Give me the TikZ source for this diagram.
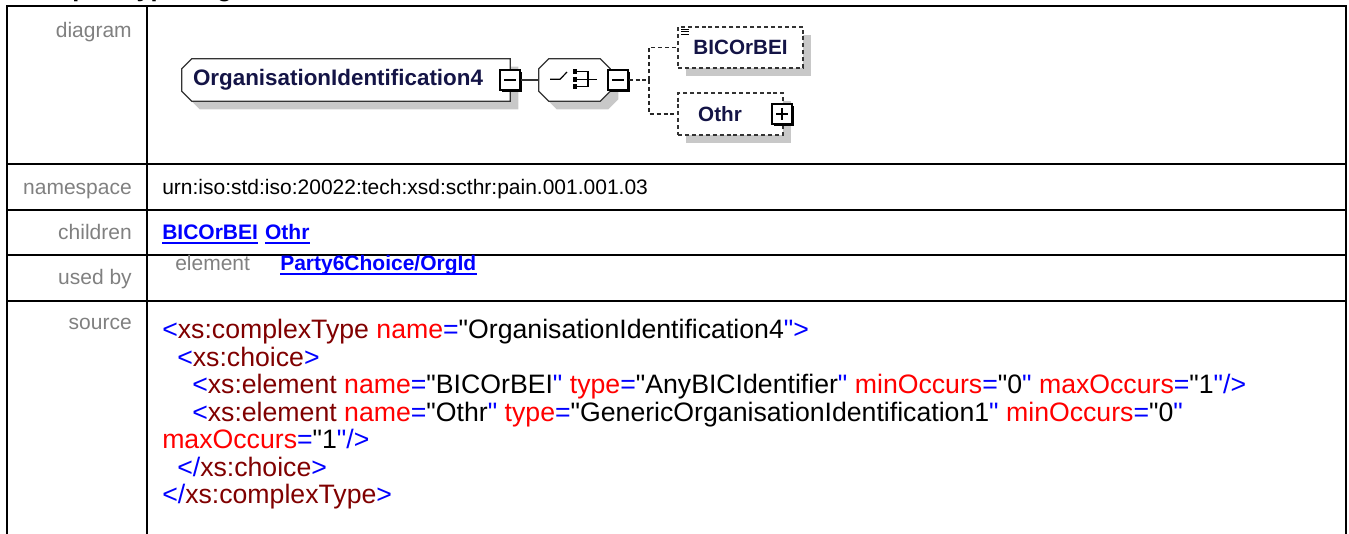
\documentclass[tikz,border=0pt]{standalone}
\usepackage{fontspec}
\setmainfont{Liberation Sans}
\newfontfamily\srcfont{Liberation Sans}
\usetikzlibrary{shadows, positioning, backgrounds}
\definecolor{lblgray}{RGB}{128,128,128}
\definecolor{navy}{RGB}{20,20,70}
\definecolor{shgray}{RGB}{200,200,200}
\definecolor{tagred}{RGB}{128,0,0}
\definecolor{attred}{RGB}{255,0,0}
\definecolor{symblue}{RGB}{0,0,255}
\newcommand{\xtag}[1]{\textcolor{tagred}{#1}}
\newcommand{\xatt}[1]{\textcolor{attred}{#1}}
\newcommand{\xsym}[1]{\textcolor{symblue}{#1}}
% outline of a box with cut corners on the left (#1 node, #2/#3 offset)
\newcommand{\lcham}[3]{([xshift=#2+7.5pt,yshift=#3]#1.north west) -- ([xshift=#2,yshift=#3]#1.north east)
  -- ([xshift=#2,yshift=#3]#1.south east) -- ([xshift=#2+7.5pt,yshift=#3]#1.south west)
  -- ([xshift=#2,yshift=#3+7.5pt]#1.south west) -- ([xshift=#2,yshift=#3-7.5pt]#1.north west) -- cycle}
% outline with all four corners cut
\newcommand{\ocham}[3]{([xshift=#2+7.5pt,yshift=#3]#1.north west) -- ([xshift=#2-7.5pt,yshift=#3]#1.north east)
  -- ([xshift=#2,yshift=#3-7.5pt]#1.north east) -- ([xshift=#2,yshift=#3+7.5pt]#1.south east)
  -- ([xshift=#2-7.5pt,yshift=#3]#1.south east) -- ([xshift=#2+7.5pt,yshift=#3]#1.south west)
  -- ([xshift=#2,yshift=#3+7.5pt]#1.south west) -- ([xshift=#2,yshift=#3-7.5pt]#1.north west) -- cycle}

\begin{document}
\begin{tikzpicture}[x=0.75pt, y=-0.75pt,
  tblline/.style={line width=1.5pt, line cap=rect},
  lbl/.style={anchor=base east, inner sep=0pt, text=lblgray,
    font=\fontsize{15.75pt}{18pt}\selectfont},
  cell/.style={anchor=base west, inner sep=0pt,
    font=\fontsize{15.75pt}{18pt}\selectfont},
  lnk/.style={cell, text=symblue, font=\fontsize{15.75pt}{18pt}\selectfont\bfseries},
  lnkline/.style={draw=symblue, line width=1.4pt},
  src/.style={anchor=base west, inner sep=0pt,
    font=\srcfont\fontsize{20pt}{22pt}\selectfont},
  boxline/.style={draw=black!80, line width=1pt, fill=white},
  elnode/.style={rectangle, inner sep=0pt, minimum height=31.5pt,
    font=\fontsize{16.8pt}{18pt}\selectfont\bfseries, text=navy},
  optbox/.style={boxline, rectangle, inner sep=0pt, line width=1.2pt, dash pattern=on 3pt off 2.2pt,
    drop shadow={shadow xshift=6pt, shadow yshift=-6pt, fill=shgray, opacity=1},
    font=\fontsize{15.5pt}{18pt}\selectfont\bfseries, text=navy},
  pmbox/.style={draw=black, line width=0.9pt, fill=white, minimum size=15pt, inner sep=0pt,
    drop shadow={shadow xshift=1.5pt, shadow yshift=-1.5pt, fill=black, opacity=1}},
  minusbox/.style={pmbox, path picture={
    \draw[line width=0.9pt] ([xshift=3pt]path picture bounding box.west) -- ([xshift=-3pt]path picture bounding box.east);}},
  plusbox/.style={pmbox, path picture={
    \draw[line width=0.9pt] ([xshift=3pt]path picture bounding box.west) -- ([xshift=-3pt]path picture bounding box.east);
    \draw[line width=0.9pt] ([yshift=-3pt]path picture bounding box.north) -- ([yshift=3pt]path picture bounding box.south);}},
  conn/.style={line width=1pt, draw=black!80},
  dconn/.style={conn, draw=black!85, line width=1.2pt, dash pattern=on 3pt off 2.2pt}
]
  \useasboundingbox (0,0) rectangle (1349,533);
  \clip (0,0) rectangle (1349,533);

  % heading, cut off at the top
  \node[anchor=base west, inner sep=0pt, font=\fontsize{19pt}{20pt}\selectfont\bfseries]
    (ttl) at (20,-3.8) {complexType OrganisationIdentification4};

  % table rules
  \foreach \y in {6,164,210,255,301}
    \draw[tblline] (7,\y) -- (1346,\y);
  \foreach \x in {7,147,1346}
    \draw[tblline] (\x,6) -- (\x,545);

  % row labels
  \node[lbl] (lbldiag) at (132,37) {diagram};
  \node[lbl] (lblns) at (132,194) {namespace};
  \node[lbl] (lblkids) at (132,239.5) {children};
  \node[lbl] (lblused) at (132,284.5) {used by};
  \node[lbl] (lblsrc) at (132,329) {source};

  % diagram
  \node[elnode, minimum width=246pt] (org) at (346,80) {OrganisationIdentification4\hspace*{12pt}};
  \node[minusbox] (orgm) at (510,80) {};
  \node[elnode, minimum width=53.25pt] (chc) at (574.5,80) {};
  \node[minusbox] (chcm) at (618,80) {};
  \begin{scope}[on background layer]
    \fill[shgray] \lcham{org}{6pt}{-6pt};
    \path[boxline] \lcham{org}{0pt}{0pt};
    \fill[shgray] \ocham{chc}{6pt}{-6pt};
    \path[boxline] \ocham{chc}{0pt}{0pt};
  \end{scope}
  \draw[conn] (orgm.east) -- (chc.west);

  % choice symbol
  \begin{scope}[shift={(chc.center)}, line width=0.9pt]
    \draw (-24.5,-0.7) -- (-14.5,-0.7) -- (-7.5,-8);
    \foreach \yy in {-8.5,-0.5,6.5}
      \fill (-1.5,\yy-2.5) rectangle (2.5,\yy+2.5);
    \draw (2.5,-8.3) -- (13.5,-8.3) -- (13.5,6.7) -- (2.5,6.7);
    \draw (2.5,-0.7) -- (22.5,-0.7);
  \end{scope}

  \node[optbox, minimum width=93.75pt, minimum height=30.75pt] (bic) at (740.5,47.5) {BICOrBEI};
  \node[optbox, minimum width=78.75pt, minimum height=31.5pt] (othr) at (730.5,114) {Othr\hspace*{15.75pt}};
  \node[plusbox] (othrp) at (782,114) {};
  \foreach \k in {0,1,2}
    \draw[line width=0.6pt] ([xshift=3pt, yshift=-2.4pt-1.8pt*\k]bic.north west) -- ++(6pt,0);

  \coordinate (fork) at (649,80);
  \draw[dconn] (chcm.east) -- (fork);
  \draw[dconn] (fork) |- (bic.west);
  \draw[dconn] (fork) |- (othr.west);

  % namespace, children, used by
  \node[cell] (ns) at (162,194) {urn:iso:std:iso:20022:tech:xsd:scthr:pain.001.001.03};
  \node[lnk] (kid1) at (162,239.5) {BICOrBEI};
  \node[lnk, right=5pt of kid1.base east, anchor=base west] (kid2) {Othr};
  \node[cell, text=lblgray] (usedel) at (175,270.5) {element};
  \node[lnk] (used1) at (280,270.5) {Party6Choice/OrgId};
  \foreach \n in {kid1,kid2,used1}
    \draw[lnkline] ([yshift=-2.3pt]\n.base west) -- ([yshift=-2.3pt]\n.base east);

  % source
  \node[src] (s1) at (162,338.5) {\xsym{<}\xtag{xs:complexType} \xatt{name}\xsym{=}"OrganisationIdentification4\xsym{">}};
  \node[src] (s2) at (177,366) {\xsym{<}\xtag{xs:choice}\xsym{>}};
  \node[src] (s3) at (192,393.5) {\xsym{<}\xtag{xs:element} \xatt{name}\xsym{=}"BICOrBEI\xsym{"} \xatt{type}\xsym{=}"AnyBICIdentifier\xsym{"} \xatt{minOccurs}\xsym{=}"0\xsym{"} \xatt{maxOccurs}\xsym{=}"1\xsym{"/>}};
  \node[src] (s4) at (192,421) {\xsym{<}\xtag{xs:element} \xatt{name}\xsym{=}"Othr\xsym{"} \xatt{type}\xsym{=}"GenericOrganisationIdentification1\xsym{"} \xatt{minOccurs}\xsym{=}"0\xsym{"}};
  \node[src] (s5) at (162,448.5) {\xatt{maxOccurs}\xsym{=}"1\xsym{"/>}};
  \node[src] (s6) at (177,476) {\xsym{</}\xtag{xs:choice}\xsym{>}};
  \node[src] (s7) at (162,503.5) {\xsym{</}\xtag{xs:complexType}\xsym{>}};
\end{tikzpicture}
\end{document}
